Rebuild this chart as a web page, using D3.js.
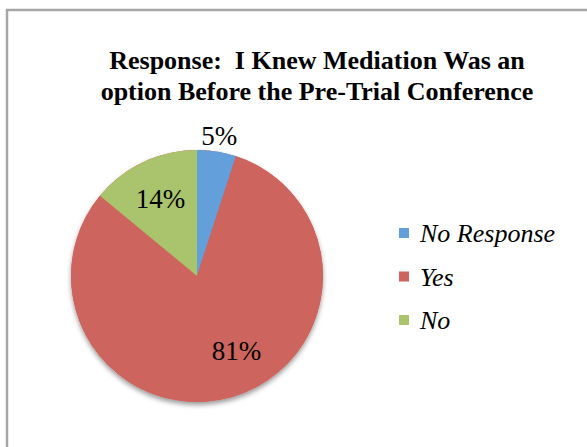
<!DOCTYPE html>
<html>
<head>
<meta charset="utf-8">
<script src="https://cdn.jsdelivr.net/npm/d3@7"></script>
<style>
  body { margin: 0; background: #fff; }
  svg { display: block; }
  text { font-family: "Liberation Serif", "Times New Roman", serif; white-space: pre; }
</style>
</head>
<body>
<div id="chart"></div>
<script>
// chart data
var categories = ["No Response", "Yes", "No"];
var values = [5, 81, 14];
var labels = ["5%", "81%", "14%"];
var colors = ["#629fdb", "#cd645e", "#a9c46c"];
var titleLines = ["Response:  I Knew Mediation Was an", "option Before the Pre-Trial Conference"];

var svgWidth = 587;
var svgHeight = 447;

var svg = d3.select("#chart")
  .append("svg")
  .attr("width", svgWidth)
  .attr("height", svgHeight);

// shadow under the pie
var defs = svg.append("defs");
var filter = defs.append("filter").attr("id", "shadow")
  .attr("x", "-20%").attr("y", "-20%").attr("width", "140%").attr("height", "140%");
filter.append("feDropShadow")
  .attr("dx", 0).attr("dy", 3).attr("stdDeviation", 2.5)
  .attr("flood-color", "#000").attr("flood-opacity", 0.4);

// chart frame (runs off the right and bottom)
svg.append("rect")
  .attr("x", 7).attr("y", 10)
  .attr("width", 600).attr("height", 460)
  .attr("fill", "none")
  .attr("stroke", "#a6a6a6")
  .attr("stroke-width", 2.5);

// title
var title = svg.append("text")
  .attr("x", 317)
  .attr("y", 69)
  .attr("text-anchor", "middle")
  .style("font-weight", "bold")
  .style("font-size", "26px")
  .attr("fill", "#000");
title.selectAll("tspan")
  .data(titleLines)
  .enter()
  .append("tspan")
  .attr("x", 317)
  .attr("dy", (d, i) => i === 0 ? 0 : 31)
  .text(d => d);

// pie
var cx = 197, cy = 276, radius = 126;
var pie = d3.pie().sort(null).value(d => d);
var arc = d3.arc().innerRadius(0).outerRadius(radius);
var pieGroup = svg.append("g").attr("transform", `translate(${cx}, ${cy})`);

pieGroup.append("circle")
  .attr("r", radius)
  .attr("fill", colors[1])
  .attr("filter", "url(#shadow)");

var arcs = pie(values);
pieGroup.selectAll("path")
  .data(arcs)
  .enter()
  .append("path")
  .attr("d", arc)
  .attr("fill", (d, i) => colors[i]);

// percentage labels: 5% sits outside, the others inside
var labelK = [1.13, 0.67, 0.68];
var labelNudge = [[0, 0], [16, -7], [0, 0]];
pieGroup.selectAll("text.pct")
  .data(arcs)
  .enter()
  .append("text")
  .attr("class", "pct")
  .attr("transform", function(d, i) {
    var la = d3.arc().innerRadius(radius * labelK[i]).outerRadius(radius * labelK[i]);
    var c = la.centroid(d);
    return `translate(${c[0] + labelNudge[i][0]}, ${c[1] + labelNudge[i][1]})`;
  })
  .attr("text-anchor", "middle")
  .attr("dy", "0.35em")
  .style("font-size", "27px")
  .attr("fill", "#000")
  .text((d, i) => labels[i]);

// legend
var legend = svg.append("g").attr("transform", "translate(399, 233)");
var rows = legend.selectAll("g")
  .data(categories)
  .enter()
  .append("g")
  .attr("transform", (d, i) => `translate(0, ${i * 43.5})`);
rows.append("rect")
  .attr("x", 0).attr("y", -5)
  .attr("width", 10).attr("height", 10)
  .attr("fill", (d, i) => colors[i]);
rows.append("text")
  .attr("x", 21)
  .attr("y", 0)
  .attr("dy", "0.35em")
  .style("font-style", "italic")
  .style("font-size", "26px")
  .attr("fill", "#000")
  .text(d => d);
</script>
</body>
</html>
